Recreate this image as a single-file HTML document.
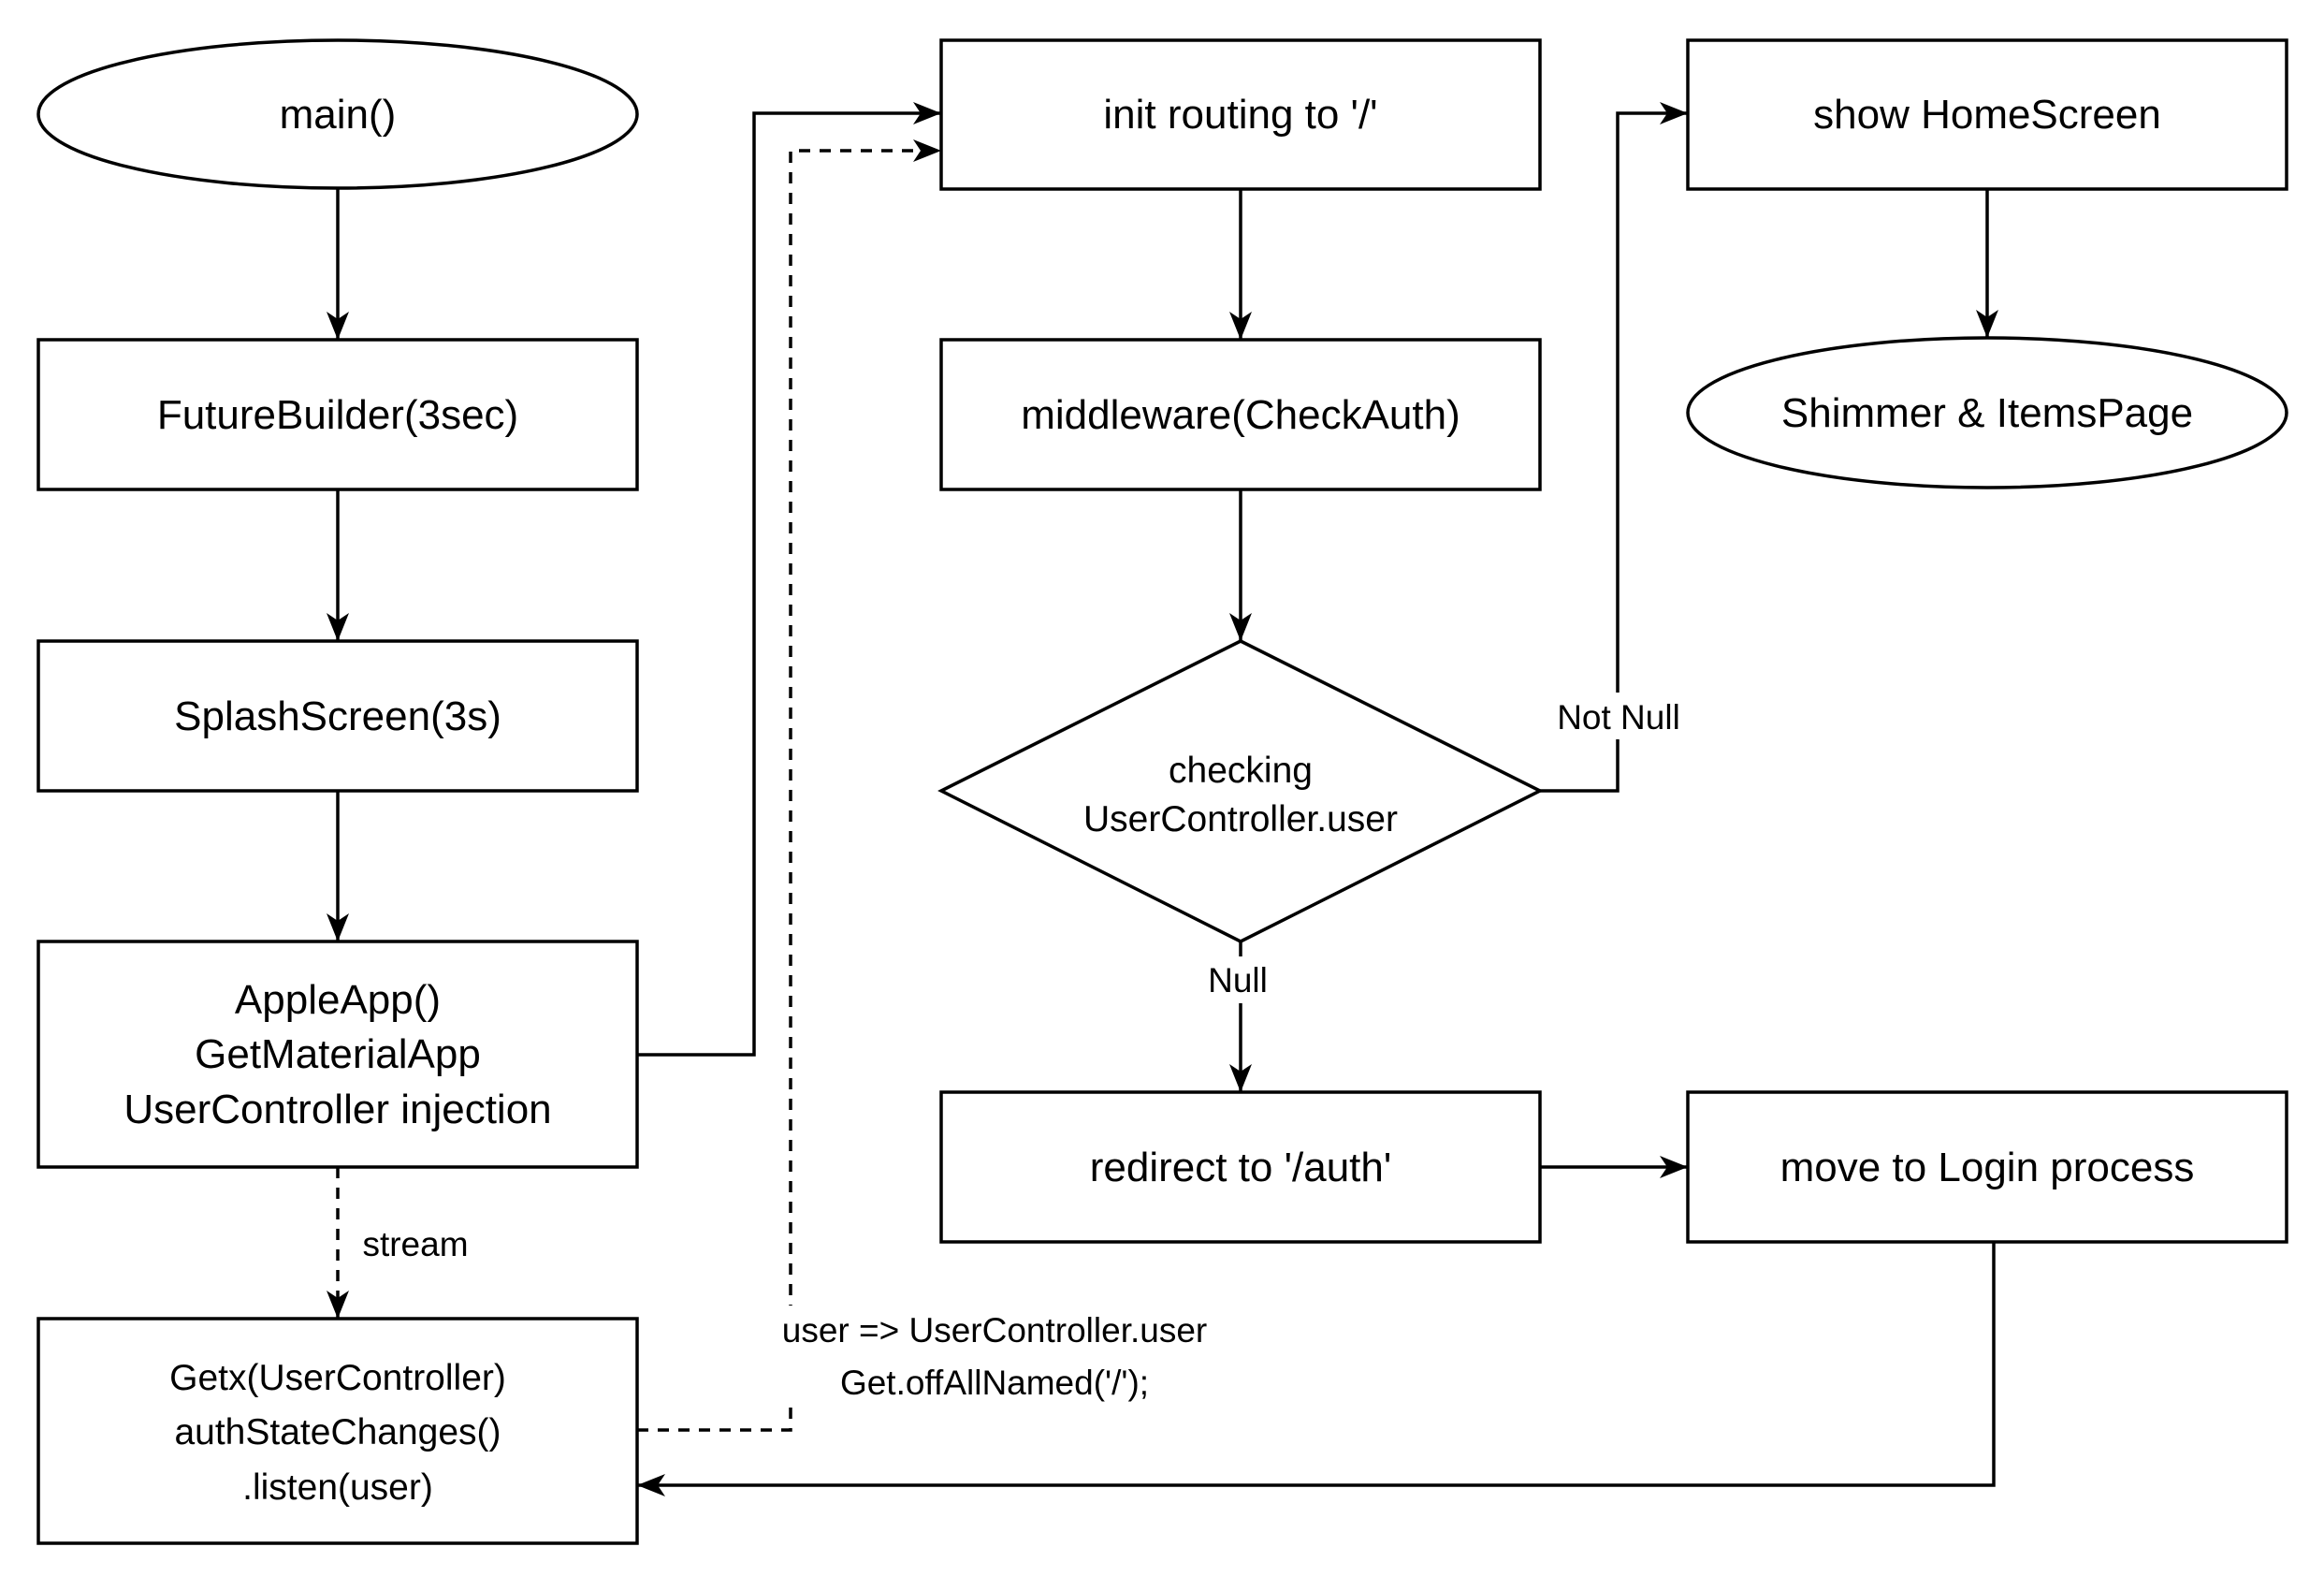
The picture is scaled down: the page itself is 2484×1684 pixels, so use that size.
<!DOCTYPE html>
<html><head><meta charset="utf-8"><style>
html,body{margin:0;padding:0;background:#fff;}
svg{display:block;}
text{font-family:"Liberation Sans",Arial,sans-serif;fill:#000;}
</style></head><body>
<svg width="2484" height="1684" viewBox="0 0 2484 1684" xmlns="http://www.w3.org/2000/svg">
<defs>
<marker id="a" viewBox="0 0 30 24" refX="30" refY="12" markerWidth="30" markerHeight="24" markerUnits="userSpaceOnUse" orient="auto">
<path d="M0,0 L30,12 L0,24 L8,12 z" fill="#000"/>
</marker>
</defs>
<rect width="2484" height="1684" fill="#fff"/>
<g fill="none" stroke="#000" stroke-width="3.5">
<!-- col1 -->
<ellipse cx="361" cy="122" rx="320" ry="79" fill="#fff"/>
<rect x="41" y="363" width="640" height="160" fill="#fff"/>
<rect x="41" y="685" width="640" height="160" fill="#fff"/>
<rect x="41" y="1006" width="640" height="241" fill="#fff"/>
<rect x="41" y="1409" width="640" height="240" fill="#fff"/>
<!-- col2 -->
<rect x="1006" y="43" width="640" height="159" fill="#fff"/>
<rect x="1006" y="363" width="640" height="160" fill="#fff"/>
<polygon points="1326,685 1646,845 1326,1006 1006,845" fill="#fff"/>
<rect x="1006" y="1167" width="640" height="160" fill="#fff"/>
<!-- col3 -->
<rect x="1804" y="43" width="640" height="159" fill="#fff"/>
<ellipse cx="2124" cy="441" rx="320" ry="80" fill="#fff"/>
<rect x="1804" y="1167" width="640" height="160" fill="#fff"/>

<!-- connectors -->
<path d="M361,202 V363" marker-end="url(#a)"/>
<path d="M361,523 V685" marker-end="url(#a)"/>
<path d="M361,845 V1006" marker-end="url(#a)"/>
<path d="M361,1247 V1409" stroke-dasharray="12,10" marker-end="url(#a)"/>
<path d="M681,1127 H806 V121 H1006" marker-end="url(#a)"/>
<path d="M681,1528 H845 V161 H1006" stroke-dasharray="12,10" marker-end="url(#a)"/>
<path d="M1326,202 V363" marker-end="url(#a)"/>
<path d="M1326,523 V685" marker-end="url(#a)"/>
<path d="M1326,1006 V1167" marker-end="url(#a)"/>
<path d="M1646,845 H1729 V121 H1804" marker-end="url(#a)"/>
<path d="M2124,202 V361" marker-end="url(#a)"/>
<path d="M1646,1247 H1804" marker-end="url(#a)"/>
<path d="M2131,1327 V1587 H681" marker-end="url(#a)"/>
</g>
<!-- label backgrounds -->
<rect x="1660" y="740" width="140" height="50" fill="#fff"/>
<rect x="1290" y="1022" width="72" height="50" fill="#fff"/>
<rect x="795" y="1395" width="540" height="100" fill="#fff"/>

<g font-size="44" text-anchor="middle">
<text x="361" y="137">main()</text>
<text x="361" y="458">FutureBuilder(3sec)</text>
<text x="361" y="780">SplashScreen(3s)</text>
<text x="361" y="1083">AppleApp()</text>
<text x="361" y="1141">GetMaterialApp</text>
<text x="361" y="1200">UserController injection</text>
<text x="1326" y="137">init routing to '/'</text>
<text x="1326" y="458">middleware(CheckAuth)</text>
<text x="1326" y="1262">redirect to '/auth'</text>
<text x="2124" y="137">show HomeScreen</text>
<text x="2124" y="456">Shimmer &amp; ItemsPage</text>
<text x="2124" y="1262">move to Login process</text>
</g>
<g font-size="39" text-anchor="middle">
<text x="1326" y="836">checking</text>
<text x="1326" y="888">UserController.user</text>
<text x="361" y="1485">Getx(UserController)</text>
<text x="361" y="1543">authStateChanges()</text>
<text x="361" y="1602">.listen(user)</text>
</g>
<g font-size="37" text-anchor="middle">
<text x="1730" y="779">Not Null</text>
<text x="1323" y="1060">Null</text>
<text x="444" y="1342">stream</text>
<text x="1063" y="1434">user =&gt; UserController.user</text>
<text x="1063" y="1490">Get.offAllNamed('/');</text>
</g>
</svg>
</body></html>
